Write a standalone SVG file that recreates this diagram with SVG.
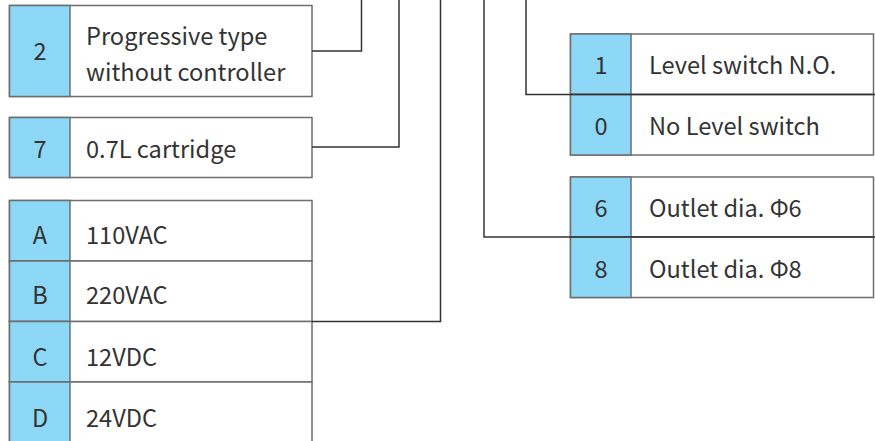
<svg xmlns="http://www.w3.org/2000/svg" width="875" height="441" viewBox="0 0 875 441">
<style>
.cell{fill:#fff;stroke:#6e6e6e;stroke-width:1.5}
.key{fill:#8dd8f6;stroke:#6e6e6e;stroke-width:1.5}
.t{font-family:"Noto Sans CJK SC","Noto Sans",sans-serif;font-size:23.6px;fill:#333}
.c{text-anchor:middle}
.ln{fill:none;stroke:#333;stroke-width:1.5}
</style>
<rect width="875" height="441" fill="#fff"/>
<g id="node-2">
<rect class="cell" x="9.5" y="5.5" width="302.5" height="91"/>
<rect class="key" x="9.5" y="5.5" width="60.5" height="91"/>
<text class="t c" x="40" y="60">2</text>
<text class="t" x="86" y="44.5">Progressive type</text>
<text class="t" x="86" y="81">without controller</text>
</g>
<g id="node-7">
<rect class="cell" x="9.5" y="117.5" width="302.5" height="60"/>
<rect class="key" x="9.5" y="117.5" width="60.5" height="60"/>
<text class="t c" x="40" y="157.5">7</text>
<text class="t" x="86" y="157.5">0.7L cartridge</text>
</g>
<g id="node-voltage">
<rect class="cell" x="9.5" y="200.5" width="302.5" height="60.5"/>
<rect class="key" x="9.5" y="200.5" width="60.5" height="60.5"/>
<text class="t c" x="40" y="243.5">A</text>
<text class="t" x="86" y="243.5">110VAC</text>
<rect class="cell" x="9.5" y="261" width="302.5" height="60.5"/>
<rect class="key" x="9.5" y="261" width="60.5" height="60.5"/>
<text class="t c" x="40" y="304">B</text>
<text class="t" x="86" y="304">220VAC</text>
<rect class="cell" x="9.5" y="321.5" width="302.5" height="60.5"/>
<rect class="key" x="9.5" y="321.5" width="60.5" height="60.5"/>
<text class="t c" x="40" y="365.5">C</text>
<text class="t" x="86" y="365.5">12VDC</text>
<rect class="cell" x="9.5" y="382" width="302.5" height="61"/>
<rect class="key" x="9.5" y="382" width="60.5" height="61"/>
<text class="t c" x="40" y="426.5">D</text>
<text class="t" x="86" y="426.5">24VDC</text>
</g>
<g id="node-level">
<rect class="cell" x="570.5" y="34" width="303" height="60.5"/>
<rect class="key" x="570.5" y="34" width="60.5" height="60.5"/>
<text class="t c" x="601" y="74">1</text>
<text class="t" x="649" y="74">Level switch N.O.</text>
<rect class="cell" x="570.5" y="94.5" width="303" height="60.5"/>
<rect class="key" x="570.5" y="94.5" width="60.5" height="60.5"/>
<text class="t c" x="601" y="135">0</text>
<text class="t" x="649" y="135">No Level switch</text>
</g>
<g id="node-outlet">
<rect class="cell" x="570.5" y="177" width="303" height="60"/>
<rect class="key" x="570.5" y="177" width="60.5" height="60"/>
<text class="t c" x="601" y="216.5">6</text>
<text class="t" x="649" y="216.5">Outlet dia. Φ6</text>
<rect class="cell" x="570.5" y="237" width="303" height="60.5"/>
<rect class="key" x="570.5" y="237" width="60.5" height="60.5"/>
<text class="t c" x="601" y="277.5">8</text>
<text class="t" x="649" y="277.5">Outlet dia. Φ8</text>
</g>
<g id="connectors">
<polyline class="ln" points="312,51 361.5,51 361.5,0"/>
<polyline class="ln" points="312,147 399,147 399,0"/>
<polyline class="ln" points="312,321.5 440.5,321.5 440.5,0"/>
<polyline class="ln" points="875,94.5 526,94.5 526,0"/>
<polyline class="ln" points="875,237 484,237 484,0"/>
</g>
</svg>
